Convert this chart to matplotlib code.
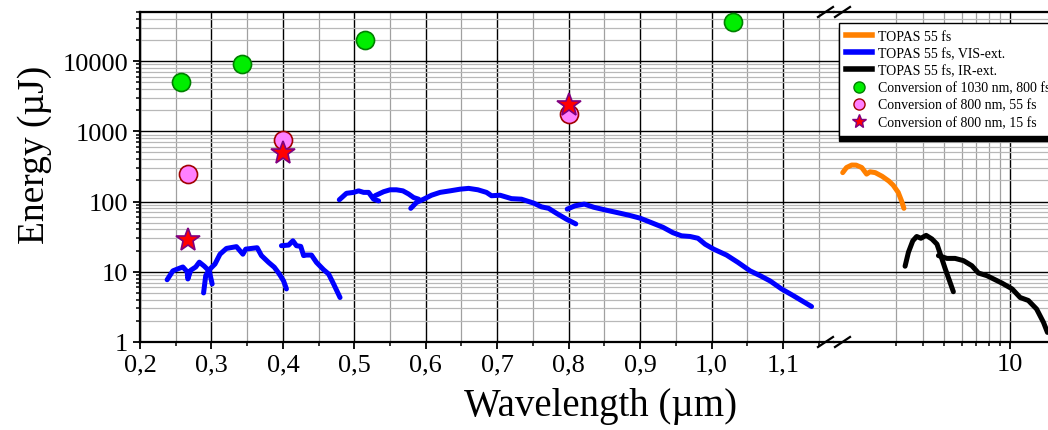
import numpy as np
import matplotlib
matplotlib.use('Agg')
import matplotlib.pyplot as plt
from matplotlib.ticker import FixedLocator, MultipleLocator, LogLocator, NullFormatter, FuncFormatter
from matplotlib.lines import Line2D

plt.rcParams['font.family'] = ['Liberation Serif', 'DejaVu Serif']

# ---- data (wavelength in um, energy in uJ) ----
topas_wl = [1.71, 1.78, 1.88, 1.97, 2.09, 2.20, 2.28, 2.41, 2.59, 2.78, 2.91, 3.07, 3.18, 3.26]
topas_e = [258, 305, 331, 330, 305, 246, 265, 258, 229, 196, 171, 135, 102, 80]

# VIS extension, several pieces
vis_wl = [
    [0.238, 0.246, 0.253, 0.260, 0.266, 0.267, 0.271, 0.278, 0.283, 0.290, 0.297, 0.301],
    [0.289, 0.292, 0.297, 0.305, 0.312, 0.321, 0.335, 0.344, 0.348, 0.356, 0.364, 0.370,
     0.380, 0.388, 0.395, 0.401, 0.405],
    [0.398, 0.408, 0.414, 0.419, 0.425, 0.429, 0.433, 0.440, 0.447, 0.457, 0.464, 0.471, 0.480],
    [0.479, 0.489, 0.499, 0.506, 0.513, 0.520, 0.527, 0.534],
    [0.529, 0.541, 0.550, 0.559, 0.568, 0.576, 0.583, 0.590],
    [0.579, 0.587, 0.597, 0.608, 0.620, 0.634, 0.648, 0.660, 0.673, 0.685, 0.692, 0.704,
     0.720, 0.734, 0.751, 0.762, 0.772, 0.783, 0.797, 0.810],
    [0.798, 0.809, 0.822, 0.835, 0.851, 0.867, 0.884, 0.900, 0.916, 0.932, 0.946, 0.958,
     0.970, 0.981, 0.991, 1.003, 1.021, 1.037, 1.054, 1.068, 1.082, 1.098, 1.114, 1.140],
]
vis_e = [
    [7.7, 10.3, 11, 11.7, 10, 7.9, 10.5, 11.7, 13.7, 12, 10.2, 6.7],
    [5.0, 8.8, 10.7, 12.9, 17.8, 21.5, 22.8, 17.8, 21, 21.5, 22, 17, 13.6, 11.6, 9.3, 7.4, 5.7],
    [23.5, 24, 27.6, 23.5, 23, 17, 17.3, 17.3, 13.6, 10.7, 9.3, 6.7, 4.3],
    [106, 131, 135, 142, 135, 135, 108, 102],
    [121, 138, 147, 147, 142, 128, 114, 108],
    [80, 97, 108, 123, 135, 142, 150, 154, 147, 135, 121, 123, 110, 108, 95, 84, 80, 68, 56, 48],
    [78, 87, 92, 83, 76, 70, 64, 58, 50, 43, 36, 32.5, 31.8, 30, 24.7, 21, 17.3, 13.6,
     10.3, 8.8, 7.4, 5.7, 4.6, 3.2],
]

# IR extension, two pieces
ir_wl = [
    [3.30, 3.42, 3.58, 3.73, 3.90, 4.12, 4.38, 4.62, 4.81, 5.04, 5.30, 5.49],
    [4.69, 5.13, 5.59, 6.11, 6.67, 7.15, 7.82, 8.39, 9.16, 10.2, 11.1, 12.1, 13.2, 14.2, 14.8],
]
ir_e = [
    [12, 19, 27.6, 31.8, 30, 33, 29.3, 24.7, 17, 11, 7.1, 5.2],
    [17, 15.5, 15.5, 14.4, 12.2, 9.6, 8.8, 7.9, 6.9, 5.7, 4.3, 3.9, 2.95, 1.9, 1.37],
]

conv1030_wl = [0.2575, 0.343, 0.515, 1.03]
conv1030_e = [5000, 9000, 20000, 35500]
conv800_55_wl = [0.2667, 0.40, 0.80]
conv800_55_e = [250, 750, 1750]
conv800_15_wl = [0.2667, 0.40, 0.80]
conv800_15_e = [28, 490, 2350]

ytick_vals = [1, 10, 100, 1000, 10000]

# ---- figure ----
W, H = 1048, 431
fig = plt.figure(figsize=(W / 100, H / 100), dpi=100)

def fx(px):
    return px / W

def fy(py):
    return 1 - py / H

bot, top = fy(343), fy(13)
ax = fig.add_axes([fx(140), bot, fx(834) - fx(140), top - bot])
ax2 = fig.add_axes([fx(834), bot, fx(1076) - fx(834), top - bot])

c_blue = '#0000ff'
c_orange = '#ff8000'
lw = 3.6

for wl, e in zip(vis_wl, vis_e):
    ax.plot(wl, e, color=c_blue, lw=lw, solid_capstyle='round', zorder=3)
ax2.plot(topas_wl, topas_e, color=c_orange, lw=lw, solid_capstyle='round', zorder=3)
for wl, e in zip(ir_wl, ir_e):
    ax2.plot(wl, e, color='black', lw=lw, solid_capstyle='round', zorder=3)

ax.plot(conv1030_wl, conv1030_e, 'o', ms=13, mfc='#00ee00', mec='#008000', mew=1.2,
        ls='none', zorder=5, clip_on=False)
ax.plot(conv800_55_wl, conv800_55_e, 'o', ms=13, mfc='#ff80ff', mec='#a00000', mew=1.2,
        ls='none', zorder=5)
ax.plot(conv800_15_wl, conv800_15_e, '*', ms=18, mfc='#ff0000', mec='#800080', mew=1.2,
        ls='none', zorder=6)

for a in (ax, ax2):
    a.set_yscale('log')
    a.set_ylim(1, 50000)
    a.yaxis.set_major_locator(FixedLocator(ytick_vals))
    a.yaxis.set_minor_locator(LogLocator(base=10, subs=range(2, 10)))
    a.yaxis.set_minor_formatter(NullFormatter())
    a.grid(True, which='major', color='black', lw=1.0, zorder=1)
    a.grid(True, which='minor', axis='y', color='#b8b8b8', lw=0.9, zorder=1)
    a.grid(True, which='minor', axis='x', color='#a0a0a0', lw=0.9, zorder=1)
    a.set_axisbelow(True)
    for s in ('top', 'bottom'):
        a.spines[s].set_linewidth(1.6)
    a.spines['right'].set_visible(False)
    a.tick_params(axis='both', which='major', direction='out', length=5, width=1.3,
                  labelsize=19, top=False, right=False)
    a.tick_params(axis='both', which='minor', direction='out', length=3, width=1.1,
                  top=False, right=False)

ax.set_xlim(0.2, 0.2 + (834 - 140) / 714.4)
ax.xaxis.set_major_locator(MultipleLocator(0.1))
ax.xaxis.set_minor_locator(MultipleLocator(0.05))
ax.xaxis.set_major_formatter(FuncFormatter(lambda v, p: f"{v:.1f}".replace('.', ',')))
ax.set_yticklabels([str(v) for v in ytick_vals])
ax.spines['left'].set_linewidth(1.6)
ax.tick_params(axis='x', pad=3)

ax2.set_xscale('log')
ax2.set_xlim(1.56, 20)
ax2.xaxis.set_major_locator(FixedLocator([10]))
ax2.xaxis.set_minor_locator(FixedLocator([3, 4, 5, 6, 7, 8, 9, 20]))
ax2.xaxis.set_major_formatter(FuncFormatter(lambda v, p: f"{v:g}"))
ax2.xaxis.set_minor_formatter(NullFormatter())
ax2.spines['left'].set_visible(False)
ax2.tick_params(axis='y', which='both', left=False, labelleft=False)
ax2.tick_params(axis='x', pad=3)

# axis break marks
for yb in (343, 13):
    for x0 in (818, 835):
        fig.add_artist(Line2D([fx(x0), fx(x0 + 15)], [fy(yb + 5), fy(yb - 5)],
                              color='black', lw=1.6))

fig.text(fx(601), fy(407), 'Wavelength (µm)', fontsize=28, ha='center', va='center')
fig.text(fx(35), fy(155), 'Energy (µJ)', fontsize=27, ha='center', va='center',
         rotation=90)

handles = [
    Line2D([], [], color=c_orange, lw=4),
    Line2D([], [], color=c_blue, lw=4),
    Line2D([], [], color='black', lw=4),
    Line2D([], [], marker='o', ls='none', ms=8, mfc='#00ee00', mec='#008000'),
    Line2D([], [], marker='o', ls='none', ms=8, mfc='#ff80ff', mec='#a00000'),
    Line2D([], [], marker='*', ls='none', ms=10, mfc='#ff0000', mec='#800080'),
]
labels = ['TOPAS 55 fs', 'TOPAS 55 fs, VIS-ext.', 'TOPAS 55 fs, IR-ext.',
          'Conversion of 1030 nm, 800 fs', 'Conversion of 800 nm, 55 fs',
          'Conversion of 800 nm, 15 fs']
leg = fig.legend(handles, labels, loc='upper left', bbox_to_anchor=(fx(839), fy(24)),
                 bbox_transform=fig.transFigure, borderaxespad=0, fontsize=10,
                 frameon=True, fancybox=False, edgecolor='black', framealpha=1,
                 labelspacing=0.3, handlelength=1.9, handletextpad=0.4, borderpad=0.5,
                 shadow={'color': 'black', 'alpha': 1, 'ox': 0, 'oy': -4})
leg.get_frame().set_linewidth(1.0)

fig.savefig('out.png', dpi=100)
